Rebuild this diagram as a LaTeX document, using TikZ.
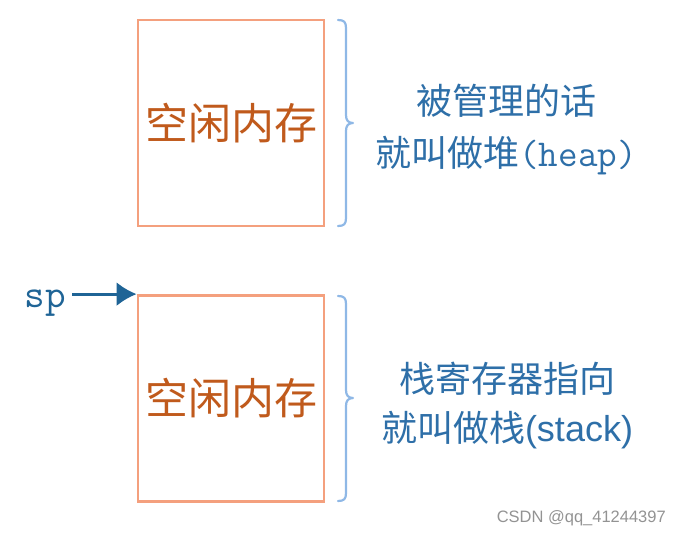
\documentclass[tikz,border=0pt]{standalone}
\usepackage{fontspec}
\usetikzlibrary{arrows.meta}
\setmainfont{Liberation Sans}
\newfontfamily\arialfont{Liberation Sans}
\newfontfamily\cjk{Noto Sans CJK SC}
\definecolor{boxline}{HTML}{F4A07E}
\definecolor{boxtext}{HTML}{C05A1C}
\definecolor{braceblue}{HTML}{8FB8E6}
\definecolor{textblue}{HTML}{2E6FA8}
\definecolor{arrowblue}{HTML}{1F6496}
\begin{document}
\begin{tikzpicture}[x=1pt,y=-1pt,
  memblock/.style={draw=boxline,line width=2.8pt,minimum width=186pt,minimum height=206pt,inner sep=0pt,
    font=\cjk\fontsize{43}{46}\selectfont,text=boxtext},
  sidetext/.style={align=center,text=textblue,font=\cjk\fontsize{36}{52}\selectfont,inner sep=0pt},
  bracestyle/.style={draw=braceblue,line width=2.2pt,line cap=round,line join=round}]
\useasboundingbox (0,0) rectangle (680,536);
\node[memblock] (heapbox) at (231,123) {空闲内存};
\node[memblock] (stackbox) at (231,398.5) {空闲内存};
% braces
\draw[bracestyle] (338,20) .. controls (344,20) and (346,22) .. (346,28) -- (346,115) .. controls (346,120) and (348,123) .. (353,123)
  .. controls (348,123) and (346,126) .. (346,131) -- (346,218) .. controls (346,224) and (344,226) .. (338,226);
\draw[bracestyle] (338,296) .. controls (344,296) and (346,298) .. (346,304) -- (346,390) .. controls (346,395) and (348,398) .. (353,398)
  .. controls (348,398) and (346,401) .. (346,406) -- (346,493) .. controls (346,499) and (344,501) .. (338,501);
\node[sidetext] (heaplabel) at (506,130) {被管理的话\\就叫做堆{\ttfamily\fontsize{38}{52}\selectfont(heap)}};
\node[sidetext,font=\cjk\fontsize{36}{49}\selectfont] (stacklabel) at (507,405) {栈寄存器指向\\就叫做栈{\arialfont\fontsize{36}{49}\selectfont(stack)}};
\node[font=\ttfamily\fontsize{40}{42}\selectfont,text=arrowblue,anchor=base east,inner sep=0pt] (sp) at (66,307) {sp};
\coordinate (sptip) at (stackbox.north west);
\draw[arrowblue,line width=2.8pt,{Latex[length=20pt,width=24pt]}-] (sptip) -- ++(-65,0) coordinate (sptail);
\node[text=gray!85,font=\arialfont\fontsize{16.5}{18}\selectfont,anchor=east,inner sep=0pt] (wm) at (666,518) {CSDN @qq\_41244397};
\end{tikzpicture}
\end{document}
